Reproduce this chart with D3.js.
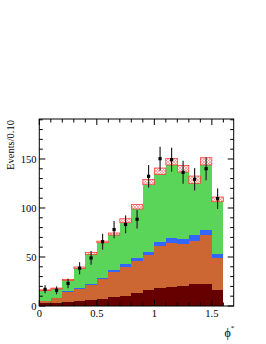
<!DOCTYPE html>
<html>
<head>
<meta charset="utf-8">
<script src="https://d3js.org/d3.v7.min.js"></script>
<style>
  body { margin: 0; background: #fff; }
  text { font-family: "Liberation Serif", "DejaVu Serif", serif; }
</style>
</head>
<body>
<div id="chart"></div>
<script>
// bin lower edges (width 0.1)
var binEdges = [0, 0.1, 0.2, 0.3, 0.4, 0.5, 0.6, 0.7, 0.8, 0.9, 1.0, 1.1, 1.2, 1.3, 1.4, 1.5];
var binWidth = 0.1;

// stacked background components (bottom to top)
var darkRed = [3.4, 3.4, 4.1, 4.8, 6.1, 6.8, 8.8, 10.2, 13.6, 16, 18, 19.4, 20.7, 22.1, 22.4, 16.3];
var orange  = [1.6, 4.4, 10.5, 12.5, 15.3, 20.4, 26.2, 29.8, 32.3, 36, 43.5, 45.2, 42.6, 44.5, 50, 33];
var blue    = [0.6, 0.8, 1, 1.2, 1.5, 1.8, 2, 2.4, 2.7, 3.4, 4.1, 5.1, 5.1, 5.5, 5.2, 3.4];
var green   = [10, 8.7, 10.6, 19.9, 29.8, 35.6, 35.4, 42.6, 50.4, 68.4, 68.8, 74.2, 68.3, 53.1, 66.3, 53.7];
// uncertainty band above the stack
var band    = [0.9, 1, 1, 1.4, 1.8, 1.6, 2.1, 4, 4.7, 5.2, 6.4, 6.8, 6.8, 7.4, 7.4, 4.8];

// data points
var dataVals = [17, 16, 23, 38.5, 49, 65.6, 78, 83.3, 88.5, 132.3, 150.3, 149.3, 136.4, 129.3, 140.1, 109.5];
var dataErrs = [4.1, 4, 4.8, 6.2, 7, 8.1, 8.8, 9.1, 9.4, 11.5, 12.3, 12.2, 11.7, 11.4, 11.8, 10.5];

var xTicks = [0, 0.5, 1, 1.5];
var xTickLabels = ["0", "0.5", "1", "1.5"];
var yTicks = [0, 50, 100, 150];

var W = 266, H = 344;
var padL = 39.3, padR = 233.7, padT = 119, padB = 306;

var svg = d3.select("#chart").append("svg")
    .attr("width", W).attr("height", H);

var x = d3.scaleLinear().domain([0, 1.69]).range([padL, padR]);
var y = d3.scaleLinear().domain([0, 190.8]).range([padB, padT]);

var defs = svg.append("defs");
var pat = defs.append("pattern")
    .attr("id", "hatch")
    .attr("patternUnits", "userSpaceOnUse")
    .attr("width", 3).attr("height", 3);
pat.append("rect").attr("width", 3).attr("height", 3).attr("fill", "#fff2f2");
pat.append("path").attr("d", "M0,0 L3,3 M3,0 L0,3")
    .attr("stroke", "#ff7a7a").attr("stroke-width", 0.6);

var rows = binEdges.map(function(e, i) {
    return { x0: e, darkRed: darkRed[i], orange: orange[i], blue: blue[i], green: green[i] };
});
var keys = ["darkRed", "orange", "blue", "green"];
var colors = { darkRed: "#660000", orange: "#cc6633", blue: "#3366ff", green: "#5ad55a" };

var stack = d3.stack().keys(keys)(rows);

stack.forEach(function(layer) {
    svg.append("g").selectAll("rect")
        .data(layer)
        .join("rect")
        .attr("x", function(d) { return x(d.data.x0); })
        .attr("width", function(d) { return x(d.data.x0 + binWidth) - x(d.data.x0); })
        .attr("y", function(d) { return y(d[1]); })
        .attr("height", function(d) { return y(d[0]) - y(d[1]); })
        .attr("fill", colors[layer.key])
        .attr("shape-rendering", "crispEdges");
});

// hatched uncertainty band on top of the stack
var topLayer = stack[stack.length - 1];
svg.append("g").selectAll("rect")
    .data(topLayer)
    .join("rect")
    .attr("x", function(d) { return x(d.data.x0); })
    .attr("width", function(d) { return x(d.data.x0 + binWidth) - x(d.data.x0); })
    .attr("y", function(d, i) { return y(d[1] + band[i]); })
    .attr("height", function(d, i) { return y(d[1]) - y(d[1] + band[i]); })
    .attr("fill", "url(#hatch)")
    .attr("stroke", "#ff2a2a")
    .attr("stroke-width", 0.7);

// data points with error bars
var pts = svg.append("g");
dataVals.forEach(function(v, i) {
    var cx = x(binEdges[i] + binWidth / 2);
    pts.append("line")
        .attr("x1", cx).attr("x2", cx)
        .attr("y1", y(v - dataErrs[i])).attr("y2", y(v + dataErrs[i]))
        .attr("stroke", "#222").attr("stroke-width", 1.2);
    pts.append("rect")
        .attr("x", cx - 1.6).attr("y", y(v) - 1.6)
        .attr("width", 3.2).attr("height", 3.2)
        .attr("fill", "#000");
});

// frame
svg.append("rect")
    .attr("x", padL).attr("y", padT)
    .attr("width", padR - padL).attr("height", padB - padT)
    .attr("fill", "none").attr("stroke", "#000").attr("stroke-width", 1);

// ticks, inside on all four sides
var ticks = svg.append("g").attr("stroke", "#000").attr("stroke-width", 1);
d3.range(0, 1.69, 0.1).forEach(function(t) {
    var major = xTicks.some(function(m) { return Math.abs(m - t) < 1e-6; });
    var len = major ? 6 : 3.5;
    var px = x(t);
    ticks.append("line").attr("x1", px).attr("x2", px).attr("y1", padB).attr("y2", padB - len);
    ticks.append("line").attr("x1", px).attr("x2", px).attr("y1", padT).attr("y2", padT + len);
});
d3.range(0, 191, 10).forEach(function(t) {
    var major = yTicks.indexOf(t) >= 0;
    var len = major ? 6 : 3.5;
    var py = y(t);
    ticks.append("line").attr("x1", padL).attr("x2", padL + len).attr("y1", py).attr("y2", py);
    ticks.append("line").attr("x1", padR).attr("x2", padR - len).attr("y1", py).attr("y2", py);
});

// tick labels
svg.append("g").selectAll("text")
    .data(xTicks)
    .join("text")
    .attr("x", function(d) { return x(d); })
    .attr("y", 316.5)
    .attr("text-anchor", "middle")
    .attr("font-size", 10.5)
    .text(function(d, i) { return xTickLabels[i]; });

svg.append("g").selectAll("text")
    .data(yTicks)
    .join("text")
    .attr("x", 36.5)
    .attr("y", function(d) { return y(d) + 3.8; })
    .attr("text-anchor", "end")
    .attr("font-size", 10.5)
    .text(function(d) { return d; });

// axis titles
svg.append("text")
    .attr("transform", "translate(13.5,120) rotate(-90)")
    .attr("text-anchor", "end")
    .attr("font-size", 10.5)
    .text("Events/0.10");

var xt = svg.append("text")
    .attr("x", 224.5).attr("y", 336.5)
    .attr("font-size", 12);
xt.append("tspan").text("\u03d5");
xt.append("tspan").attr("dy", -7).attr("font-size", 7).text("*");
</script>
</body>
</html>
